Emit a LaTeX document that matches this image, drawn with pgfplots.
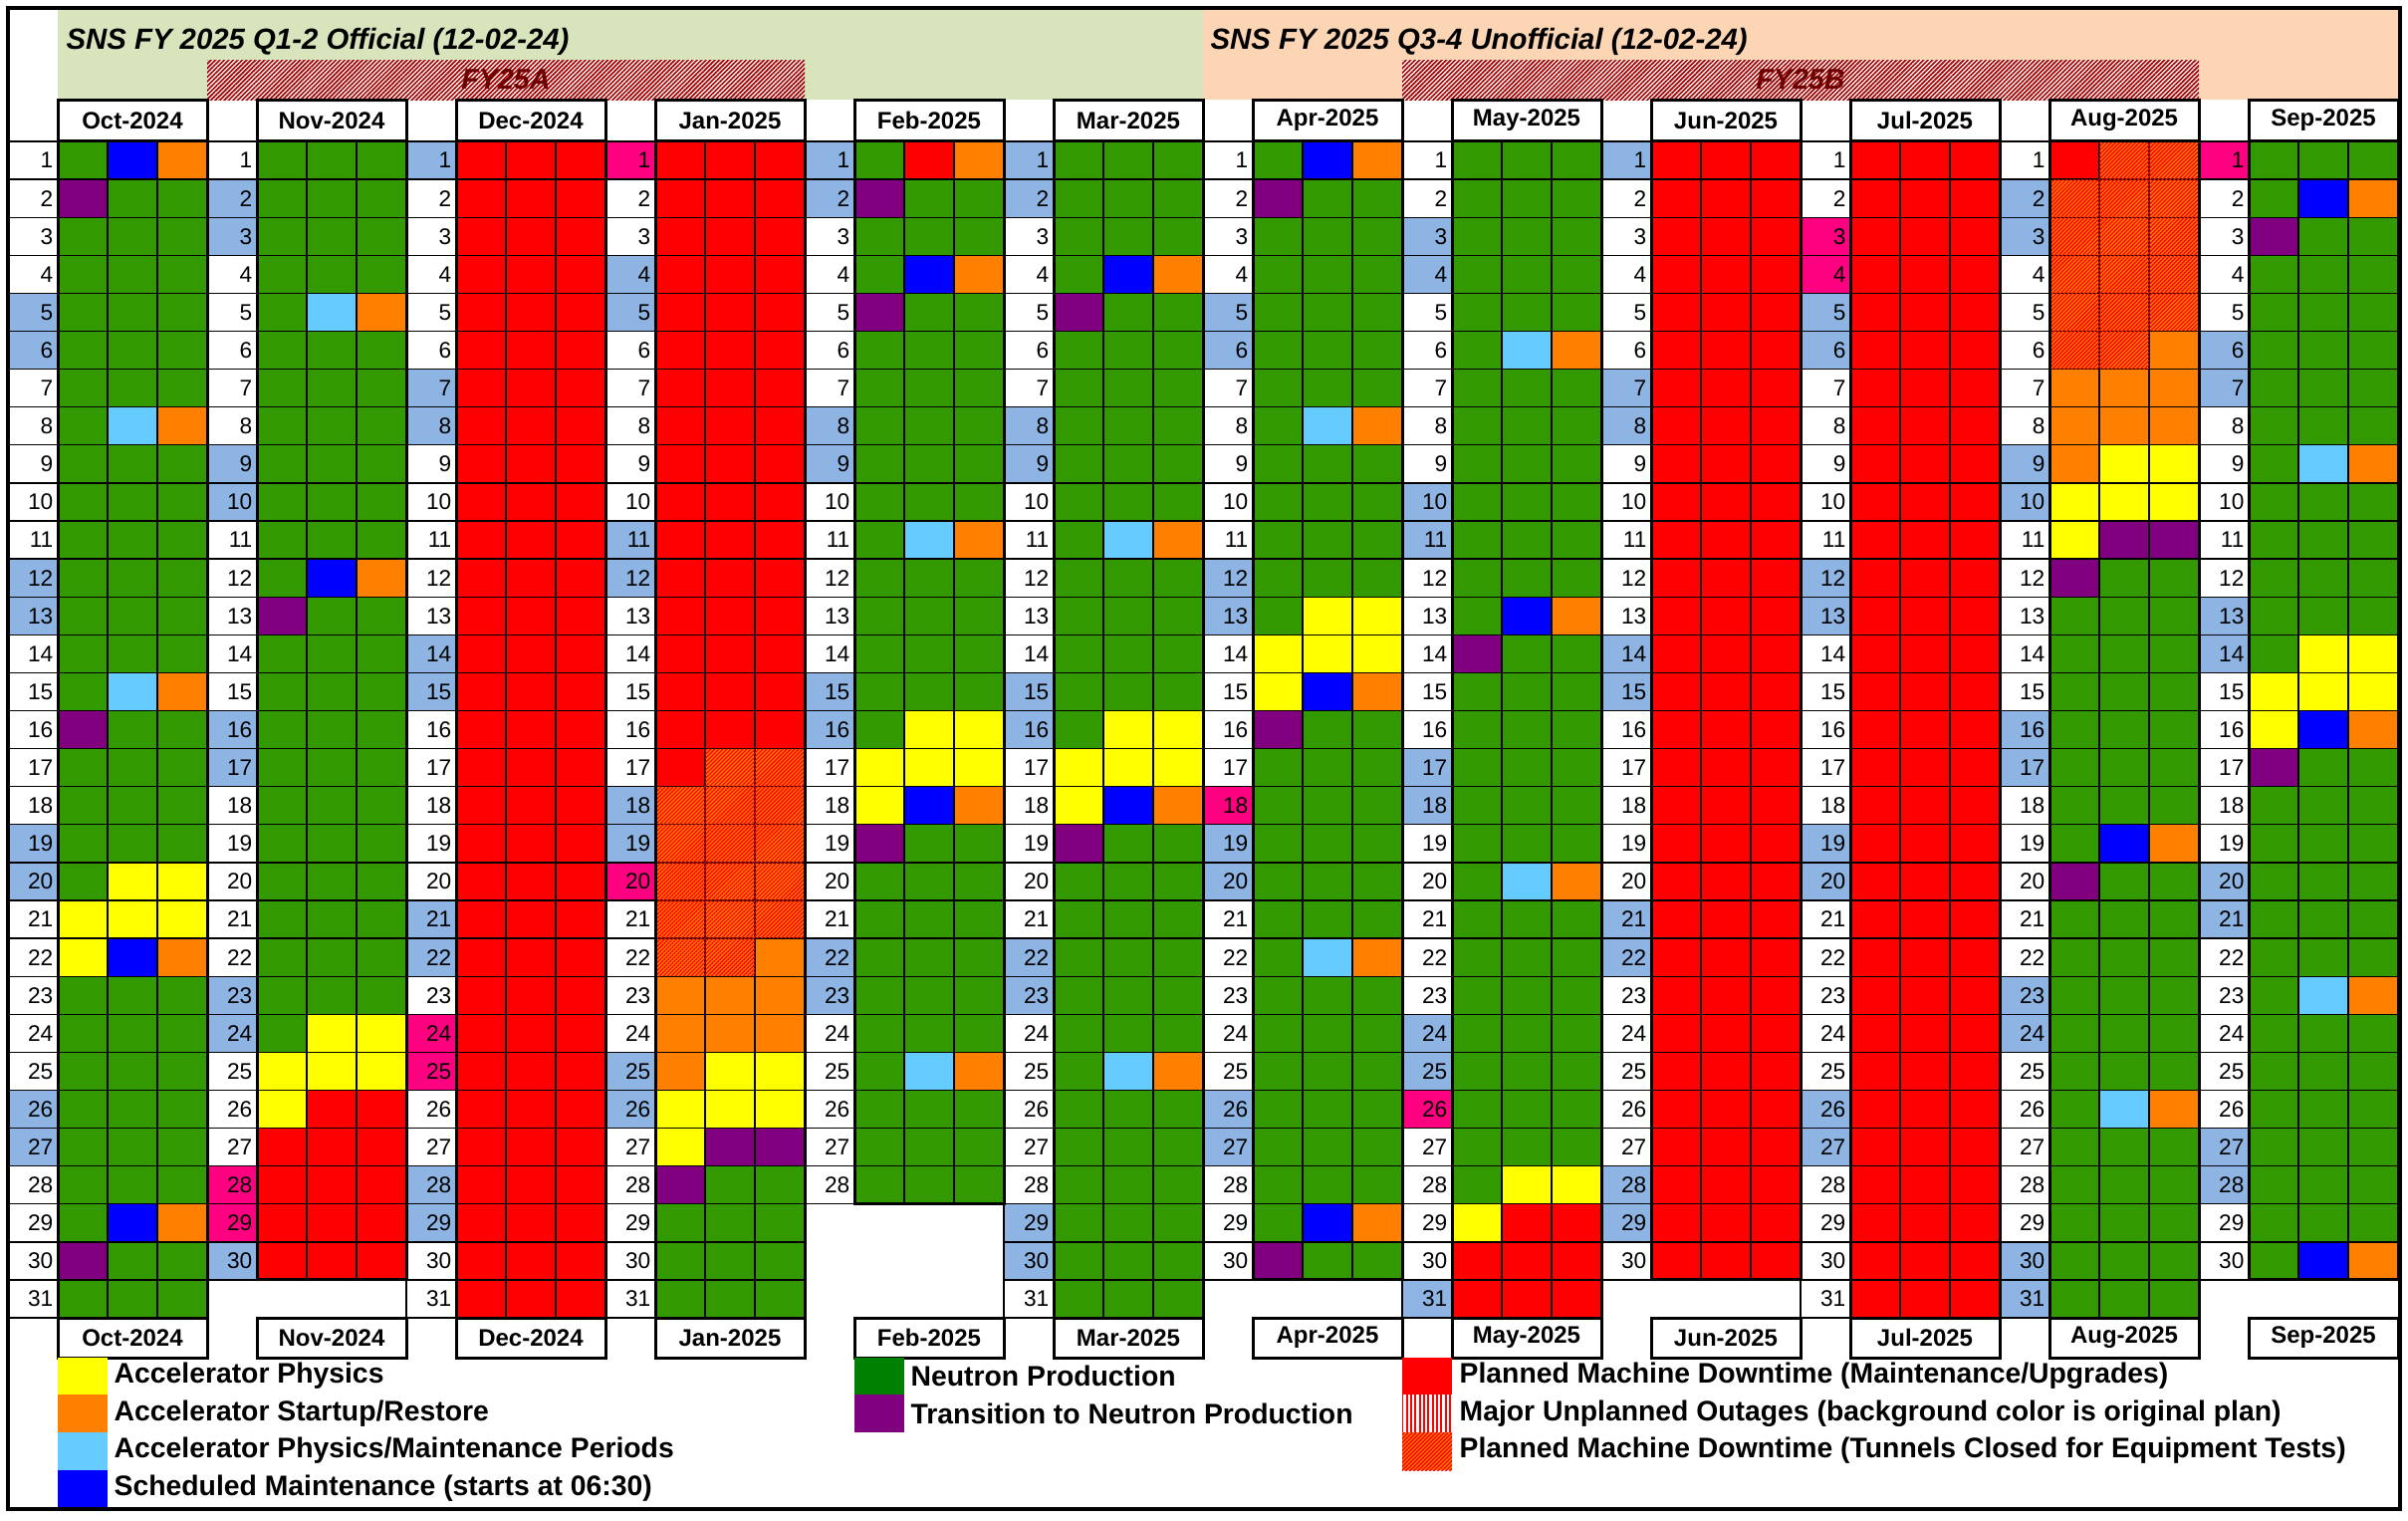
\documentclass[border=0pt]{standalone}
\usepackage{pgfplots}
\pgfplotsset{compat=1.18}
\usepackage{fontspec}
\setmainfont{Liberation Sans}
\usetikzlibrary{patterns.meta}
\definecolor{cwk}{RGB}{141,180,226}
\definecolor{chol}{RGB}{255,0,128}
\definecolor{cgreen}{RGB}{51,153,0}
\definecolor{lgreen}{RGB}{0,128,0}
\definecolor{cred}{RGB}{255,0,0}
\definecolor{cyel}{RGB}{255,255,0}
\definecolor{corg}{RGB}{255,128,0}
\definecolor{clb}{RGB}{102,204,255}
\definecolor{cblue}{RGB}{0,0,255}
\definecolor{cpur}{RGB}{128,0,128}
\definecolor{bandg}{RGB}{216,228,188}
\definecolor{bando}{RGB}{252,213,180}
\definecolor{hatchred}{RGB}{165,0,0}
\definecolor{fytext}{RGB}{110,0,0}
\pgfdeclareplotmark{cell}{%
  \pgfpathrectangle{\pgfqpoint{-7.5pt}{-5.715pt}}{\pgfqpoint{15pt}{11.43pt}}%
  \pgfusepathqfillstroke}
\pgfplotsset{
  table/calt/.style={header=false,row sep=\\,
    x expr={#1+0.5+\coordindex-4*floor((\coordindex+0.5)/4)},
    y expr={1+floor((\coordindex+0.5)/4)},meta index=0},
  cal/.style={scatter, only marks, mark=cell, point meta=explicit symbolic,
    mark options={line width=0.4pt},
    scatter/classes={
      0={draw=black,fill=white},
      1={draw=black,fill=cwk},
      2={draw=black,fill=chol},
      3={draw=black,fill=cgreen},
      4={draw=black,fill=cred},
      5={draw=black,fill=cyel},
      6={draw=black,fill=corg},
      7={draw=black,fill=clb},
      8={draw=black,fill=cblue},
      9={draw=black,fill=cpur},
      10={draw=black,fill=corg}}},
}
\tikzset{
  daylab/.style={anchor=east, inner sep=0pt, font=\fontsize{6.8}{7.5}\selectfont},
  mlab/.style={inner sep=0pt, font=\fontsize{7.2}{8}\selectfont\bfseries},
  leg/.style={anchor=west, inner sep=0pt, font=\fontsize{8.5}{9.5}\selectfont\bfseries},
  ttl/.style={anchor=west, inner sep=0pt, font=\fontsize{8.8}{10}\selectfont\bfseries\itshape},
  fyl/.style={inner sep=0pt, text=fytext, font=\fontsize{8.6}{10}\selectfont\bfseries\itshape},
}
\newcommand\mon[5]{%
  \draw[line width=0.9pt] (axis cs:#1,0.5) rectangle (axis cs:#3,#4.5);
  \draw[line width=0.9pt, fill=white] (axis cs:#1,-0.6) rectangle (axis cs:#3,0.5);
  \draw[line width=0.9pt, fill=white] (axis cs:#1,31.5) rectangle (axis cs:#3,32.55);
  \node[mlab] at (axis cs:#2,-0.05) {#5};
  \node[mlab] at (axis cs:#2,32.02) {#5};
}
\newcommand\daynums[2]{%
  \pgfplotsinvokeforeach{1,...,#2}{\node[daylab] at (axis cs:#1,##1) {##1};}%
}
\begin{document}
\begin{tikzpicture}
\begin{axis}[
  x=15pt, y=11.43pt, y dir=reverse,
  xmin=-0.16, xmax=48.2, ymin=-3.226, ymax=36.827,
  hide axis, clip=false, clip marker paths=true,
]
% background
\addplot[fill=white, draw=none] coordinates {(-0.16,-3.226) (48.2,-3.226) (48.2,36.827) (-0.16,36.827)} -- cycle;
% header bands
\addplot[fill=bandg, draw=none] coordinates {(1,-3.016) (24,-3.016) (24,-0.6) (1,-0.6)} -- cycle;
\addplot[fill=bando, draw=none] coordinates {(24,-3.016) (48,-3.016) (48,-0.6) (24,-0.6)} -- cycle;
\addplot[fill=white, draw=none] coordinates {(4,-1.65) (16,-1.65) (16,-0.6) (4,-0.6)} -- cycle;
\addplot[pattern={Lines[angle=45,distance=0.95pt,line width=0.5pt]}, pattern color=hatchred, draw=none] coordinates {(4,-1.65) (16,-1.65) (16,-0.6) (4,-0.6)} -- cycle;
\addplot[fill=white, draw=none] coordinates {(28,-1.65) (44,-1.65) (44,-0.6) (28,-0.6)} -- cycle;
\addplot[pattern={Lines[angle=45,distance=0.95pt,line width=0.5pt]}, pattern color=hatchred, draw=none] coordinates {(28,-1.65) (44,-1.65) (44,-0.6) (28,-0.6)} -- cycle;
\node[ttl] at (axis cs:1.16,-2.12) {SNS FY 2025 Q1-2 Official (12-02-24)};
\node[ttl] at (axis cs:24.14,-2.12) {SNS FY 2025 Q3-4 Unofficial (12-02-24)};
\node[fyl] at (axis cs:10,-1.13) {FY25A};
\node[fyl] at (axis cs:36,-1.13) {FY25B};
% ---------------- Oct 2024
\addplot[cal] table[calt=0] {
0\\3\\8\\6\\ 0\\9\\3\\3\\ 0\\3\\3\\3\\ 0\\3\\3\\3\\ 1\\3\\3\\3\\ 1\\3\\3\\3\\ 0\\3\\3\\3\\
0\\3\\7\\6\\ 0\\3\\3\\3\\ 0\\3\\3\\3\\ 0\\3\\3\\3\\ 1\\3\\3\\3\\ 1\\3\\3\\3\\ 0\\3\\3\\3\\
0\\3\\7\\6\\ 0\\9\\3\\3\\ 0\\3\\3\\3\\ 0\\3\\3\\3\\ 1\\3\\3\\3\\ 1\\3\\5\\5\\ 0\\5\\5\\5\\
0\\5\\8\\6\\ 0\\3\\3\\3\\ 0\\3\\3\\3\\ 0\\3\\3\\3\\ 1\\3\\3\\3\\ 1\\3\\3\\3\\ 0\\3\\3\\3\\
0\\3\\8\\6\\ 0\\9\\3\\3\\ 0\\3\\3\\3\\
};
% ---------------- Nov 2024
\addplot[cal] table[calt=4] {
0\\3\\3\\3\\ 1\\3\\3\\3\\ 1\\3\\3\\3\\ 0\\3\\3\\3\\ 0\\3\\7\\6\\ 0\\3\\3\\3\\ 0\\3\\3\\3\\
0\\3\\3\\3\\ 1\\3\\3\\3\\ 1\\3\\3\\3\\ 0\\3\\3\\3\\ 0\\3\\8\\6\\ 0\\9\\3\\3\\ 0\\3\\3\\3\\
0\\3\\3\\3\\ 1\\3\\3\\3\\ 1\\3\\3\\3\\ 0\\3\\3\\3\\ 0\\3\\3\\3\\ 0\\3\\3\\3\\ 0\\3\\3\\3\\
0\\3\\3\\3\\ 1\\3\\3\\3\\ 1\\3\\5\\5\\ 0\\5\\5\\5\\ 0\\5\\4\\4\\ 0\\4\\4\\4\\ 2\\4\\4\\4\\
2\\4\\4\\4\\ 1\\4\\4\\4\\
};
% ---------------- Dec 2024
\addplot[cal] table[calt=8] {
1\\4\\4\\4\\ 0\\4\\4\\4\\ 0\\4\\4\\4\\ 0\\4\\4\\4\\ 0\\4\\4\\4\\ 0\\4\\4\\4\\ 1\\4\\4\\4\\
1\\4\\4\\4\\ 0\\4\\4\\4\\ 0\\4\\4\\4\\ 0\\4\\4\\4\\ 0\\4\\4\\4\\ 0\\4\\4\\4\\ 1\\4\\4\\4\\
1\\4\\4\\4\\ 0\\4\\4\\4\\ 0\\4\\4\\4\\ 0\\4\\4\\4\\ 0\\4\\4\\4\\ 0\\4\\4\\4\\ 1\\4\\4\\4\\
1\\4\\4\\4\\ 0\\4\\4\\4\\ 2\\4\\4\\4\\ 2\\4\\4\\4\\ 0\\4\\4\\4\\ 0\\4\\4\\4\\ 1\\4\\4\\4\\
1\\4\\4\\4\\ 0\\4\\4\\4\\ 0\\4\\4\\4\\
};
% ---------------- Jan 2025
\addplot[cal] table[calt=12] {
2\\4\\4\\4\\ 0\\4\\4\\4\\ 0\\4\\4\\4\\ 1\\4\\4\\4\\ 1\\4\\4\\4\\ 0\\4\\4\\4\\ 0\\4\\4\\4\\
0\\4\\4\\4\\ 0\\4\\4\\4\\ 0\\4\\4\\4\\ 1\\4\\4\\4\\ 1\\4\\4\\4\\ 0\\4\\4\\4\\ 0\\4\\4\\4\\
0\\4\\4\\4\\ 0\\4\\4\\4\\ 0\\4\\10\\10\\ 1\\10\\10\\10\\ 1\\10\\10\\10\\ 2\\10\\10\\10\\ 0\\10\\10\\10\\
0\\10\\10\\6\\ 0\\6\\6\\6\\ 0\\6\\6\\6\\ 1\\6\\5\\5\\ 1\\5\\5\\5\\ 0\\5\\9\\9\\ 0\\9\\3\\3\\
0\\3\\3\\3\\ 0\\3\\3\\3\\ 0\\3\\3\\3\\
};
% ---------------- Feb 2025
\addplot[cal] table[calt=16] {
1\\3\\4\\6\\ 1\\9\\3\\3\\ 0\\3\\3\\3\\ 0\\3\\8\\6\\ 0\\9\\3\\3\\ 0\\3\\3\\3\\ 0\\3\\3\\3\\
1\\3\\3\\3\\ 1\\3\\3\\3\\ 0\\3\\3\\3\\ 0\\3\\7\\6\\ 0\\3\\3\\3\\ 0\\3\\3\\3\\ 0\\3\\3\\3\\
1\\3\\3\\3\\ 1\\3\\5\\5\\ 0\\5\\5\\5\\ 0\\5\\8\\6\\ 0\\9\\3\\3\\ 0\\3\\3\\3\\ 0\\3\\3\\3\\
1\\3\\3\\3\\ 1\\3\\3\\3\\ 0\\3\\3\\3\\ 0\\3\\7\\6\\ 0\\3\\3\\3\\ 0\\3\\3\\3\\ 0\\3\\3\\3\\
};
% ---------------- Mar 2025
\addplot[cal] table[calt=20] {
1\\3\\3\\3\\ 1\\3\\3\\3\\ 0\\3\\3\\3\\ 0\\3\\8\\6\\ 0\\9\\3\\3\\ 0\\3\\3\\3\\ 0\\3\\3\\3\\
1\\3\\3\\3\\ 1\\3\\3\\3\\ 0\\3\\3\\3\\ 0\\3\\7\\6\\ 0\\3\\3\\3\\ 0\\3\\3\\3\\ 0\\3\\3\\3\\
1\\3\\3\\3\\ 1\\3\\5\\5\\ 0\\5\\5\\5\\ 0\\5\\8\\6\\ 0\\9\\3\\3\\ 0\\3\\3\\3\\ 0\\3\\3\\3\\
1\\3\\3\\3\\ 1\\3\\3\\3\\ 0\\3\\3\\3\\ 0\\3\\7\\6\\ 0\\3\\3\\3\\ 0\\3\\3\\3\\ 0\\3\\3\\3\\
1\\3\\3\\3\\ 1\\3\\3\\3\\ 0\\3\\3\\3\\
};
% ---------------- Apr 2025
\addplot[cal] table[calt=24] {
0\\3\\8\\6\\ 0\\9\\3\\3\\ 0\\3\\3\\3\\ 0\\3\\3\\3\\ 1\\3\\3\\3\\ 1\\3\\3\\3\\ 0\\3\\3\\3\\
0\\3\\7\\6\\ 0\\3\\3\\3\\ 0\\3\\3\\3\\ 0\\3\\3\\3\\ 1\\3\\3\\3\\ 1\\3\\5\\5\\ 0\\5\\5\\5\\
0\\5\\8\\6\\ 0\\9\\3\\3\\ 0\\3\\3\\3\\ 2\\3\\3\\3\\ 1\\3\\3\\3\\ 1\\3\\3\\3\\ 0\\3\\3\\3\\
0\\3\\7\\6\\ 0\\3\\3\\3\\ 0\\3\\3\\3\\ 0\\3\\3\\3\\ 1\\3\\3\\3\\ 1\\3\\3\\3\\ 0\\3\\3\\3\\
0\\3\\8\\6\\ 0\\9\\3\\3\\
};
% ---------------- May 2025
\addplot[cal] table[calt=28] {
0\\3\\3\\3\\ 0\\3\\3\\3\\ 1\\3\\3\\3\\ 1\\3\\3\\3\\ 0\\3\\3\\3\\ 0\\3\\7\\6\\ 0\\3\\3\\3\\
0\\3\\3\\3\\ 0\\3\\3\\3\\ 1\\3\\3\\3\\ 1\\3\\3\\3\\ 0\\3\\3\\3\\ 0\\3\\8\\6\\ 0\\9\\3\\3\\
0\\3\\3\\3\\ 0\\3\\3\\3\\ 1\\3\\3\\3\\ 1\\3\\3\\3\\ 0\\3\\3\\3\\ 0\\3\\7\\6\\ 0\\3\\3\\3\\
0\\3\\3\\3\\ 0\\3\\3\\3\\ 1\\3\\3\\3\\ 1\\3\\3\\3\\ 2\\3\\3\\3\\ 0\\3\\3\\3\\ 0\\3\\5\\5\\
0\\5\\4\\4\\ 0\\4\\4\\4\\ 1\\4\\4\\4\\
};
% ---------------- Jun 2025
\addplot[cal] table[calt=32] {
1\\4\\4\\4\\ 0\\4\\4\\4\\ 0\\4\\4\\4\\ 0\\4\\4\\4\\ 0\\4\\4\\4\\ 0\\4\\4\\4\\ 1\\4\\4\\4\\
1\\4\\4\\4\\ 0\\4\\4\\4\\ 0\\4\\4\\4\\ 0\\4\\4\\4\\ 0\\4\\4\\4\\ 0\\4\\4\\4\\ 1\\4\\4\\4\\
1\\4\\4\\4\\ 0\\4\\4\\4\\ 0\\4\\4\\4\\ 0\\4\\4\\4\\ 0\\4\\4\\4\\ 0\\4\\4\\4\\ 1\\4\\4\\4\\
1\\4\\4\\4\\ 0\\4\\4\\4\\ 0\\4\\4\\4\\ 0\\4\\4\\4\\ 0\\4\\4\\4\\ 0\\4\\4\\4\\ 1\\4\\4\\4\\
1\\4\\4\\4\\ 0\\4\\4\\4\\
};
% ---------------- Jul 2025
\addplot[cal] table[calt=36] {
0\\4\\4\\4\\ 0\\4\\4\\4\\ 2\\4\\4\\4\\ 2\\4\\4\\4\\ 1\\4\\4\\4\\ 1\\4\\4\\4\\ 0\\4\\4\\4\\
0\\4\\4\\4\\ 0\\4\\4\\4\\ 0\\4\\4\\4\\ 0\\4\\4\\4\\ 1\\4\\4\\4\\ 1\\4\\4\\4\\ 0\\4\\4\\4\\
0\\4\\4\\4\\ 0\\4\\4\\4\\ 0\\4\\4\\4\\ 0\\4\\4\\4\\ 1\\4\\4\\4\\ 1\\4\\4\\4\\ 0\\4\\4\\4\\
0\\4\\4\\4\\ 0\\4\\4\\4\\ 0\\4\\4\\4\\ 0\\4\\4\\4\\ 1\\4\\4\\4\\ 1\\4\\4\\4\\ 0\\4\\4\\4\\
0\\4\\4\\4\\ 0\\4\\4\\4\\ 0\\4\\4\\4\\
};
% ---------------- Aug 2025
\addplot[cal] table[calt=40] {
0\\4\\10\\10\\ 1\\10\\10\\10\\ 1\\10\\10\\10\\ 0\\10\\10\\10\\ 0\\10\\10\\10\\ 0\\10\\10\\6\\ 0\\6\\6\\6\\
0\\6\\6\\6\\ 1\\6\\5\\5\\ 1\\5\\5\\5\\ 0\\5\\9\\9\\ 0\\9\\3\\3\\ 0\\3\\3\\3\\ 0\\3\\3\\3\\
0\\3\\3\\3\\ 1\\3\\3\\3\\ 1\\3\\3\\3\\ 0\\3\\3\\3\\ 0\\3\\8\\6\\ 0\\9\\3\\3\\ 0\\3\\3\\3\\
0\\3\\3\\3\\ 1\\3\\3\\3\\ 1\\3\\3\\3\\ 0\\3\\3\\3\\ 0\\3\\7\\6\\ 0\\3\\3\\3\\ 0\\3\\3\\3\\
0\\3\\3\\3\\ 1\\3\\3\\3\\ 1\\3\\3\\3\\
};
% ---------------- Sep 2025
\addplot[cal] table[calt=44] {
2\\3\\3\\3\\ 0\\3\\8\\6\\ 0\\9\\3\\3\\ 0\\3\\3\\3\\ 0\\3\\3\\3\\ 1\\3\\3\\3\\ 1\\3\\3\\3\\
0\\3\\3\\3\\ 0\\3\\7\\6\\ 0\\3\\3\\3\\ 0\\3\\3\\3\\ 0\\3\\3\\3\\ 1\\3\\3\\3\\ 1\\3\\5\\5\\
0\\5\\5\\5\\ 0\\5\\8\\6\\ 0\\9\\3\\3\\ 0\\3\\3\\3\\ 0\\3\\3\\3\\ 1\\3\\3\\3\\ 1\\3\\3\\3\\
0\\3\\3\\3\\ 0\\3\\7\\6\\ 0\\3\\3\\3\\ 0\\3\\3\\3\\ 0\\3\\3\\3\\ 1\\3\\3\\3\\ 1\\3\\3\\3\\
0\\3\\3\\3\\ 0\\3\\8\\6\\
};
% hatched (tunnels closed) overlays
\addplot[pattern={Lines[angle=45,distance=0.85pt,line width=0.4pt]}, pattern color=cred, draw=none] coordinates {(14,16.5) (16,16.5) (16,21.5) (15,21.5) (15,22.5) (13,22.5) (13,17.5) (14,17.5)} -- cycle;
\addplot[pattern={Lines[angle=45,distance=0.85pt,line width=0.4pt]}, pattern color=cred, draw=none] coordinates {(42,0.5) (44,0.5) (44,5.5) (43,5.5) (43,6.5) (41,6.5) (41,1.5) (42,1.5)} -- cycle;
% month blocks
\mon{1}{2.5}{4}{31}{Oct-2024}
\mon{5}{6.5}{8}{30}{Nov-2024}
\mon{9}{10.5}{12}{31}{Dec-2024}
\mon{13}{14.5}{16}{31}{Jan-2025}
\mon{17}{18.5}{20}{28}{Feb-2025}
\mon{21}{22.5}{24}{31}{Mar-2025}
\mon{25}{26.5}{28}{30}{Apr-2025}
\mon{29}{30.5}{32}{31}{May-2025}
\mon{33}{34.5}{36}{30}{Jun-2025}
\mon{37}{38.5}{40}{31}{Jul-2025}
\mon{41}{42.5}{44}{31}{Aug-2025}
\mon{45}{46.5}{48}{30}{Sep-2025}
% day numbers
\daynums{0.92}{31}
\daynums{4.92}{30}
\daynums{8.92}{31}
\daynums{12.92}{31}
\daynums{16.92}{28}
\daynums{20.92}{31}
\daynums{24.92}{30}
\daynums{28.92}{31}
\daynums{32.92}{30}
\daynums{36.92}{31}
\daynums{40.92}{31}
\daynums{44.92}{30}
% legend
\addplot[fill=cyel, draw=none] coordinates {(1,32.55) (2,32.55) (2,33.52) (1,33.52)} -- cycle;
\addplot[fill=corg, draw=none] coordinates {(1,33.52) (2,33.52) (2,34.52) (1,34.52)} -- cycle;
\addplot[fill=clb, draw=none] coordinates {(1,34.52) (2,34.52) (2,35.52) (1,35.52)} -- cycle;
\addplot[fill=cblue, draw=none] coordinates {(1,35.52) (2,35.52) (2,36.51) (1,36.51)} -- cycle;
\addplot[fill=lgreen, draw=none] coordinates {(17,32.55) (18,32.55) (18,33.52) (17,33.52)} -- cycle;
\addplot[fill=cpur, draw=none] coordinates {(17,33.52) (18,33.52) (18,34.52) (17,34.52)} -- cycle;
\addplot[fill=cred, draw=none] coordinates {(28,32.55) (29,32.55) (29,33.52) (28,33.52)} -- cycle;
\addplot[pattern={Lines[angle=90,distance=1.3pt,line width=0.65pt]}, pattern color=cred, draw=none] coordinates {(28,33.52) (29,33.52) (29,34.52) (28,34.52)} -- cycle;
\addplot[fill=corg, draw=none] coordinates {(28,34.52) (29,34.52) (29,35.52) (28,35.52)} -- cycle;
\addplot[pattern={Lines[angle=45,distance=0.85pt,line width=0.4pt]}, pattern color=cred, draw=none] coordinates {(28,34.52) (29,34.52) (29,35.52) (28,35.52)} -- cycle;
\node[leg] at (axis cs:2.12,33.03) {Accelerator Physics};
\node[leg] at (axis cs:2.12,34.02) {Accelerator Startup/Restore};
\node[leg] at (axis cs:2.12,35.0) {Accelerator Physics/Maintenance Periods};
\node[leg] at (axis cs:2.12,35.99) {Scheduled Maintenance (starts at 06:30)};
\node[leg] at (axis cs:18.12,33.03) {Neutron Production};
\node[leg] at (axis cs:18.12,34.02) {Transition to Neutron Production};
\node[leg] at (axis cs:29.14,33.03) {Planned Machine Downtime (Maintenance/Upgrades)};
\node[leg] at (axis cs:29.14,34.02) {Major Unplanned Outages (background color is original plan)};
\node[leg] at (axis cs:29.14,35.0) {Planned Machine Downtime (Tunnels Closed for Equipment Tests)};
% outer frame
\draw[line width=1.2pt] (axis cs:0,-3.016) rectangle (axis cs:48.03,36.55);
\end{axis}
\end{tikzpicture}
\end{document}
